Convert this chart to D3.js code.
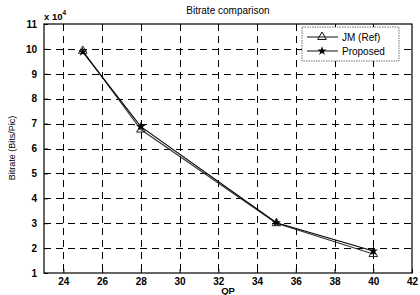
<!DOCTYPE html>
<html><head><meta charset="utf-8">
<script src="https://cdn.jsdelivr.net/npm/d3@7"></script>
<style>
body{margin:0;background:#fff;}
text{font-family:"Liberation Sans",Arial,sans-serif;}
</style></head>
<body><svg id="c" width="420" height="295"></svg>
<script>
const qp = [25, 28, 35, 40];
const jmRef = [9.92, 6.76, 3.0, 1.76];
const proposed = [9.88, 6.88, 3.02, 1.88];
const xTicks = [24, 26, 28, 30, 32, 34, 36, 38, 40, 42];
const yTicks = [1, 2, 3, 4, 5, 6, 7, 8, 9, 10, 11];

const svg = d3.select("#c");
const L = 44, R = 412, T = 24, B = 273;
const x = d3.scaleLinear().domain([23, 42]).range([L, R]);
const y = d3.scaleLinear().domain([1, 11]).range([B, T]);

// grid
const g = svg.append("g").attr("shape-rendering", "crispEdges");
xTicks.filter(d => d < 42).forEach(d => {
  g.append("line").attr("x1", Math.round(x(d)) + 0.5).attr("x2", Math.round(x(d)) + 0.5)
    .attr("y1", T).attr("y2", B)
    .attr("stroke", "#000").attr("stroke-width", 1).attr("stroke-dasharray", "7,5");
});
yTicks.filter(d => d > 1 && d < 11).forEach(d => {
  g.append("line").attr("y1", Math.round(y(d)) + 0.5).attr("y2", Math.round(y(d)) + 0.5)
    .attr("x1", L).attr("x2", R)
    .attr("stroke", "#000").attr("stroke-width", 1).attr("stroke-dasharray", "7,5");
});

// frame
svg.append("rect").attr("x", L).attr("y", T).attr("width", R - L).attr("height", B - T)
  .attr("fill", "none").attr("stroke", "#000").attr("stroke-width", 1.2);

// axes
const xa = svg.append("g").attr("transform", `translate(0,${B})`)
  .call(d3.axisBottom(x).tickValues(xTicks).tickSize(-4).tickPadding(5));
const ya = svg.append("g").attr("transform", `translate(${L},0)`)
  .call(d3.axisLeft(y).tickValues(yTicks).tickSize(-4).tickPadding(7));
[xa, ya].forEach(a => {
  a.select(".domain").remove();
  a.selectAll("line").attr("stroke", "#000");
  a.selectAll("text").attr("font-size", 10).attr("font-weight", "bold").attr("fill", "#000");
});

// lines
const line = d3.line().x((d, i) => x(qp[i])).y(d => y(d));
svg.append("path").datum(jmRef).attr("d", line).attr("fill", "none")
  .attr("stroke", "#333").attr("stroke-width", 1.1);
svg.append("path").datum(proposed).attr("d", line).attr("fill", "none")
  .attr("stroke", "#000").attr("stroke-width", 1.1);

// markers
const tri = d3.symbol().type(d3.symbolTriangle).size(32);
svg.selectAll(".tri").data(jmRef).enter().append("path")
  .attr("d", tri).attr("transform", (d, i) => `translate(${x(qp[i])},${y(d)})`)
  .attr("fill", "none").attr("stroke", "#111").attr("stroke-width", 0.9);
const star = d3.symbol().type(d3.symbolStar).size(26);
svg.selectAll(".star").data(proposed).enter().append("path")
  .attr("d", star).attr("transform", (d, i) => `translate(${x(qp[i])},${y(d)})`)
  .attr("fill", "#000");

// title & labels
svg.append("text").attr("x", 228).attr("y", 14).attr("text-anchor", "middle")
  .attr("font-size", 10).attr("fill", "#000").text("Bitrate comparison");
svg.append("text").attr("x", 228).attr("y", 294).attr("text-anchor", "middle")
  .attr("font-size", 9.5).attr("font-weight", "bold").attr("fill", "#000").text("QP");
svg.append("text").attr("transform", "translate(15,148) rotate(-90)").attr("text-anchor", "middle")
  .attr("font-size", 9).attr("fill", "#000").text("Bitrate (Bits/Pic)");
const ex = svg.append("text").attr("x", 44).attr("y", 20).attr("font-size", 9.5).attr("font-weight", "bold").attr("fill", "#000");
ex.append("tspan").text("x 10");
ex.append("tspan").attr("dy", -5).attr("font-size", 6.5).text("4");

// legend
const lg = svg.append("g");
lg.append("rect").attr("x", 302).attr("y", 27).attr("width", 97).attr("height", 34)
  .attr("fill", "#fff").attr("stroke", "#333").attr("stroke-width", 0.7).attr("stroke-dasharray", "1.5,1");
const names = ["JM (Ref)", "Proposed"];
names.forEach((n, i) => {
  const yy = 37 + i * 14;
  lg.append("line").attr("x1", 307).attr("x2", 338).attr("y1", yy).attr("y2", yy)
    .attr("stroke", "#111").attr("stroke-width", 1);
  lg.append("path").attr("d", i === 0 ? tri() : star())
    .attr("transform", `translate(322,${yy})`)
    .attr("fill", i === 0 ? "none" : "#000").attr("stroke", i === 0 ? "#111" : "none");
  lg.append("text").attr("x", 342).attr("y", yy + 3.5).attr("font-size", 10)
    .attr("fill", "#000").text(n);
});
</script></body></html>
